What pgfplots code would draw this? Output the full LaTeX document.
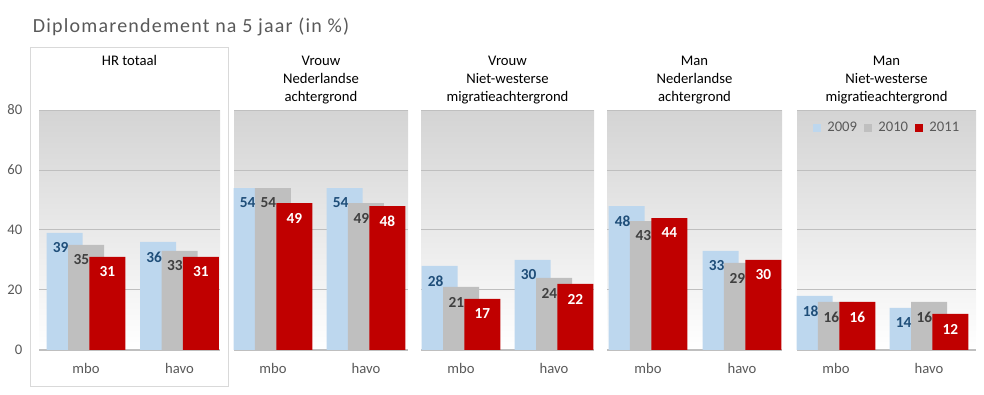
\documentclass[border=0pt]{standalone}
\usepackage{fontspec}
\setmainfont{Carlito}
\newfontfamily\titlefont[LetterSpace=6]{Carlito}
\usepackage{pgfplots}
\pgfplotsset{compat=1.18}
\definecolor{c09}{HTML}{BDD7EE}
\definecolor{c10}{HTML}{BFBFBF}
\definecolor{c11}{HTML}{C00000}
\definecolor{txt}{HTML}{595959}
\definecolor{lblblue}{HTML}{1F4E79}
\definecolor{lblgray}{HTML}{404040}
\definecolor{gridc}{HTML}{BFBFBF}
\definecolor{boxc}{HTML}{D9D9D9}
\newcommand{\lf}{\fontsize{11}{13.5}\selectfont}
\pgfplotsset{
  /pgf/number format/assume math mode=true,
  panel/.style={
    anchor=south west, scale only axis, height=180pt,
    ymin=0, ymax=80, ytick={0,20,40,60,80},
    xtick={0,1}, xticklabels={mbo,havo},
    ybar, bar width=27pt,
    axis lines*=left,
    y axis line style={draw=none},
    x axis line style={gridc, line width=1.5pt, -},
    major tick length=0pt,
    ymajorgrids, grid style={gridc, line width=0.75pt},
    axis background/.style={top color=black!17, bottom color=white},
    xticklabel style={font=\lf, text=txt, anchor=base, yshift=-18pt},
    yticklabel style={font=\lf, text=txt, anchor=east, inner sep=0pt, xshift=-12.3pt},
    clip=false,
  },
  noy/.style={yticklabels={}},
  s09/.style={fill=c09, draw=none, bar shift=-16pt, nodes near coords,
    every node near coord/.append style={anchor=center, yshift=-11.25pt, xshift=-3pt, font=\fontsize{11.5}{13.5}\selectfont\bfseries, text=lblblue}},
  s10/.style={fill=c10, draw=none, bar shift=0pt, nodes near coords,
    every node near coord/.append style={anchor=center, yshift=-11.25pt, xshift=-3.5pt, font=\fontsize{11.5}{13.5}\selectfont\bfseries, text=lblgray}},
  s11/.style={fill=c11, draw=none, bar shift=16pt, nodes near coords,
    every node near coord/.append style={anchor=center, yshift=-11.25pt, xshift=0pt, font=\fontsize{11.5}{13.5}\selectfont\bfseries, text=white}},
}
\begin{document}
\begin{tikzpicture}
\useasboundingbox (0,0) rectangle (738pt,296.25pt);
\draw[boxc, line width=0.75pt] (22.5pt,6pt) rectangle (171pt,260.25pt);
\node[anchor=base west, inner sep=0pt, font=\titlefont\fontsize{15}{18}\selectfont, text=txt] at (24.5pt,272pt) {Diplomarendement na 5 jaar (in \%)};

% Panel 1
\begin{axis}[panel, at={(29.25pt,33.75pt)}, width=135.75pt, xmin=-0.503, xmax=1.433]
\addplot[s09] coordinates {(0,39) (1,36)};
\addplot[s10] coordinates {(0,35) (1,33)};
\addplot[s11] coordinates {(0,31) (1,31)};
\end{axis}
% Panel 2
\begin{axis}[panel, noy, at={(175.5pt,33.75pt)}, width=130.5pt, xmin=-0.419, xmax=1.452]
\addplot[s09] coordinates {(0,54) (1,54)};
\addplot[s10] coordinates {(0,54) (1,49)};
\addplot[s11] coordinates {(0,49) (1,48)};
\end{axis}
% Panel 3
\begin{axis}[panel, noy, at={(315.75pt,33.75pt)}, width=129.75pt, xmin=-0.430, xmax=1.430]
\addplot[s09] coordinates {(0,28) (1,30)};
\addplot[s10] coordinates {(0,21) (1,24)};
\addplot[s11] coordinates {(0,17) (1,22)};
\end{axis}
% Panel 4
\begin{axis}[panel, noy, at={(455.25pt,33.75pt)}, width=131.25pt, xmin=-0.436, xmax=1.426]
\addplot[s09] coordinates {(0,48) (1,33)};
\addplot[s10] coordinates {(0,43) (1,29)};
\addplot[s11] coordinates {(0,44) (1,30)};
\end{axis}
% Panel 5
\begin{axis}[panel, noy, at={(597.75pt,33.75pt)}, width=134.25pt, xmin=-0.419, xmax=1.505,
  legend image code/.code={\fill[#1] (0pt,-3pt) rectangle (6pt,3pt);},
  legend style={draw=none, fill=none, at={(0.506,0.925)}, anchor=center, legend columns=3,
    font=\lf, text=txt, column sep=0pt,
    /tikz/every odd column/.append style={column sep=2.5pt},
    /tikz/every even column/.append style={column sep=3.5pt}},
  legend cell align=left]
\addplot[s09] coordinates {(0,18) (1,14)};
\addplot[s10] coordinates {(0,16) (1,16)};
\addplot[s11] coordinates {(0,16) (1,12)};
\legend{2009,2010,2011}
\end{axis}

\begin{scope}[every node/.style={anchor=north, inner sep=0pt, align=center, font=\lf, text=black}]
\node at (97.1pt,254.6pt) {HR totaal};
\node at (240.75pt,254.6pt) {Vrouw\\Nederlandse\\achtergrond};
\node at (380.6pt,254.6pt) {Vrouw\\Niet-westerse\\migratieachtergrond};
\node at (520.9pt,254.6pt) {Man\\Nederlandse\\achtergrond};
\node at (664.9pt,254.6pt) {Man\\Niet-westerse\\migratieachtergrond};
\end{scope}
\end{tikzpicture}
\end{document}
